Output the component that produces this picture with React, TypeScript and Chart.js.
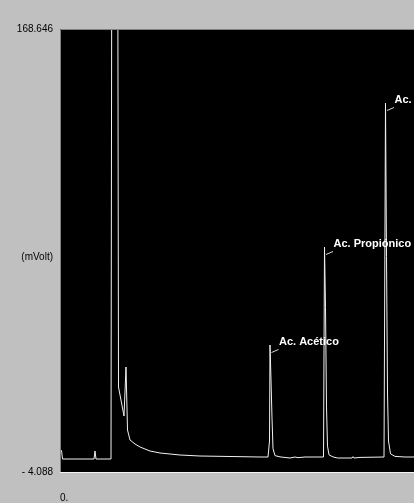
import React, { useEffect, useRef } from "react";
import { Chart, registerables } from "chart.js";

Chart.register(...registerables);

// Retention time (arbitrary minutes) and detector signal (mVolt)
const timeMin = [
  0.0, 0.03, 0.05, 0.68, 0.7, 0.72, 1.02, 1.04, 1.15, 1.17, 1.28, 1.32, 1.35,
  1.4, 1.5, 1.6, 1.8, 2.0, 2.2, 2.4, 2.8, 3.4, 4.0, 4.16, 4.19, 4.2, 4.22, 4.24,
  4.26, 4.3, 4.4, 4.6, 4.7, 4.76, 4.9, 5.27, 5.29, 5.31, 5.33, 5.35, 5.38, 5.46,
  5.55, 5.84, 5.86, 5.88, 6.0, 6.48, 6.51, 6.53, 6.55, 6.57, 6.61, 6.7, 6.9, 7.6,
];
const signalMv = [
  4.5, 4.3, 0.98, 0.98, 4.1, 0.98, 0.98, 260, 260, 29.05, 17.75, 36.85, 12.3,
  8.39, 6.83, 5.66, 4.1, 3.32, 2.93, 2.54, 2.15, 1.96, 1.76, 1.76, 8.0, 45.43,
  31.8, 17.0, 5.0, 2.3, 1.8, 1.37, 1.76, 1.5, 1.76, 1.76, 83.64, 60, 21.3, 6.0,
  2.6, 1.8, 1.37, 1.37, 1.9, 1.37, 1.6, 1.76, 139.79, 80, 27.1, 8.0, 3.0, 2.0,
  1.76, 1.76,
];

const yTickValues = [-4.088, 79.5, 168.646];
const yTickLabels = ["- 4.088", "(mVolt)", "168.646"];
const xTickValues = [0];
const xTickLabels = ["0."];

const peakNames = ["Ac. Acético", "Ac. Propiónico", "Ac."];
const peakTimes = [4.2, 5.29, 6.51];
const peakHeights = [45.43, 83.64, 139.79];

const chromPlugin = {
  id: "chromPlugin",
  beforeDraw(chart: any) {
    const { ctx, chartArea: a } = chart;
    ctx.save();
    ctx.fillStyle = "#000000";
    ctx.fillRect(a.left, a.top, a.right - a.left, a.bottom - a.top);
    ctx.restore();
  },
  afterDatasetsDraw(chart: any) {
    const { ctx, chartArea: a } = chart;
    const xs = chart.scales.x;
    const ys = chart.scales.y;
    ctx.save();
    // sunken frame
    ctx.lineWidth = 1;
    ctx.strokeStyle = "#808080";
    ctx.beginPath();
    ctx.moveTo(a.left + 0.5, a.bottom);
    ctx.lineTo(a.left + 0.5, a.top + 0.5);
    ctx.lineTo(a.right, a.top + 0.5);
    ctx.stroke();
    ctx.strokeStyle = "#f4f4f4";
    ctx.beginPath();
    ctx.moveTo(a.left, a.bottom + 0.5);
    ctx.lineTo(a.right, a.bottom + 0.5);
    ctx.stroke();
    // peak labels
    ctx.font = "bold 11px 'Liberation Sans', Arial, sans-serif";
    ctx.textBaseline = "middle";
    ctx.textAlign = "left";
    for (let i = 0; i < peakNames.length; i++) {
      const px = xs.getPixelForValue(peakTimes[i]);
      const py = ys.getPixelForValue(peakHeights[i]);
      ctx.strokeStyle = "#d8d8d8";
      ctx.beginPath();
      ctx.moveTo(px + 1.5, py + 7.5);
      ctx.lineTo(px + 8.5, py + 4.5);
      ctx.stroke();
      ctx.fillStyle = "#ffffff";
      ctx.fillText(peakNames[i], px + 9, py - 3);
    }
    ctx.restore();
  },
};

export default function App() {
  const ref = useRef<HTMLCanvasElement | null>(null);

  useEffect(() => {
    if (!ref.current) return;
    const points = timeMin.map((t, i) => ({ x: t, y: signalMv[i] }));
    const tickFont = { size: 10, family: "'Liberation Sans', Arial, sans-serif" };
    const chart = new Chart(ref.current, {
      type: "line",
      data: {
        datasets: [
          {
            data: points,
            borderColor: "#f2f2f2",
            borderWidth: 1,
            pointRadius: 0,
            tension: 0,
            fill: false,
          },
        ],
      },
      options: {
        animation: false,
        responsive: false,
        devicePixelRatio: 1,
        layout: { padding: { top: 29, left: 0, right: 0, bottom: 0 } },
        plugins: {
          legend: { display: false },
          tooltip: { enabled: false },
          title: { display: false },
        },
        scales: {
          x: {
            type: "linear",
            min: 0,
            max: 7.6,
            grid: { display: false, drawTicks: false },
            border: { display: false },
            ticks: {
              align: "start",
              padding: 20,
              autoSkip: false,
              maxRotation: 0,
              color: "#000000",
              font: tickFont,
              callback: (v: any) => {
                const i = xTickValues.indexOf(Number(v));
                return i >= 0 ? xTickLabels[i] : "";
              },
            },
            afterBuildTicks: (s: any) => {
              s.ticks = xTickValues.map((v) => ({ value: v }));
            },
            afterFit: (s: any) => {
              s.height = 31;
            },
          },
          y: {
            type: "linear",
            min: -4.088,
            max: 168.646,
            grid: { display: false, drawTicks: false },
            border: { display: false },
            ticks: {
              padding: 7,
              autoSkip: false,
              color: "#000000",
              font: tickFont,
              callback: (v: any) => {
                const i = yTickValues.indexOf(Number(v));
                return i >= 0 ? yTickLabels[i] : "";
              },
            },
            afterBuildTicks: (s: any) => {
              s.ticks = yTickValues.map((v) => ({ value: v }));
            },
            afterFit: (s: any) => {
              s.width = 60;
            },
          },
        },
      } as any,
      plugins: [chromPlugin],
    });
    return () => chart.destroy();
  }, []);

  return (
    <div
      style={{
        position: "absolute",
        left: 0,
        top: 0,
        width: 414,
        height: 503,
        overflow: "hidden",
        background: "#c0c0c0",
      }}
    >
      <canvas ref={ref} width={440} height={503} style={{ display: "block" }} />
    </div>
  );
}
